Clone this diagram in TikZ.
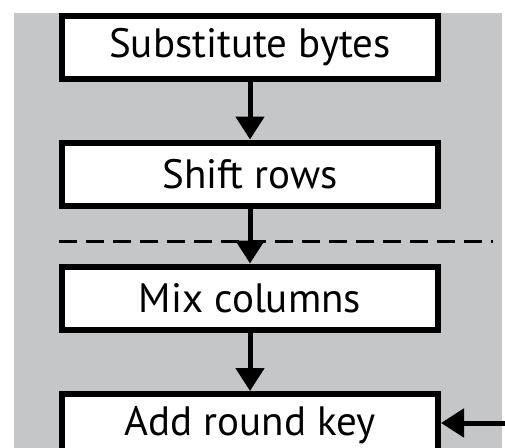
\documentclass[tikz,border=0pt]{standalone}
\usepackage{fontspec}
\setmainfont{PT Sans}
\usepackage{tikz}
\usetikzlibrary{positioning}
\usetikzlibrary{arrows.meta}
\definecolor{round_gray}{HTML}{C5C6C8}
\tikzset{my_round/.style={x=1pt,y=-1pt,line width=5pt,>={Triangle[width=28pt,length=23pt]}}}
\tikzset{my_step/.style={draw, fill=white, line width=6pt, minimum width=376pt, minimum height=63pt, inner sep=0pt, font=\fontsize{41}{43}\selectfont}}
\tikzset{my_cut/.style={dashed, line width=3pt, dash pattern=on 18pt off 9pt}}

\begin{document}
\begin{tikzpicture}[my_round]
    \useasboundingbox (0,0) rectangle (505,447);
    \fill[round_gray] (14,13) rectangle (502,470);
    %\draw[help lines] (0,0) grid (505,447);
    \coordinate (cut_l) at (59,241);
    \coordinate (cut_r) at (493,241);
    \draw[my_cut] (cut_l) -- (cut_r);

    \node[my_step] (sub) at (250,47.5) {Substitute bytes};
    \node[my_step] (shift) at (250,174) {Shift rows};
    \node[my_step] (mix) at (250,298) {Mix columns};
    \node[my_step] (key) at (250,425.5) {Add round key};
    \coordinate (key_in) at (505,423);

    \path[->]
        (sub) edge (shift)
        (shift) edge (mix)
        (mix) edge (key)
        (key_in) edge (key.east |- key_in)
    ;
\end{tikzpicture}
\end{document}
